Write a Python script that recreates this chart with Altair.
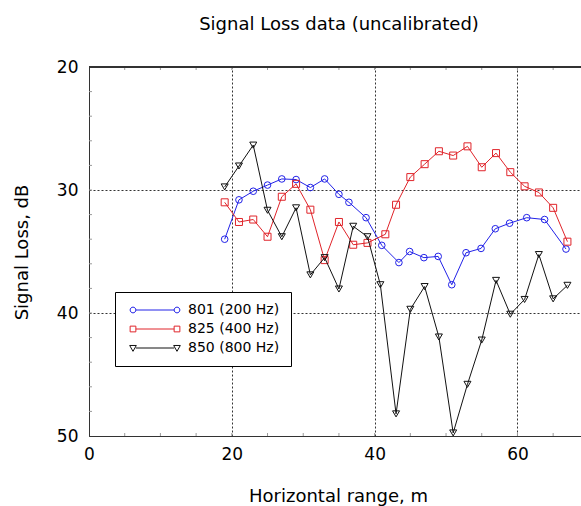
import altair as alt
import pandas as pd

# ---------------- data ----------------
series_names = ["801 (200 Hz)", "825 (400 Hz)", "850 (800 Hz)"]

x_801 = [19, 21, 23, 25, 27, 29, 31, 33, 35, 36.4, 38.8, 41, 43.4, 44.9, 46.9, 48.9,
         50.8, 52.8, 54.9, 56.9, 58.9, 61.3, 63.8, 66.8]
y_801 = [34.0, 30.8, 30.1, 29.6, 29.1, 29.15, 29.8, 29.1, 30.35, 31.0, 32.25, 34.5,
         35.9, 35.0, 35.5, 35.4, 37.7, 35.1, 34.75, 33.15, 32.7, 32.25, 32.4, 34.8]

x_825 = [19, 21, 23, 25, 27, 29, 31, 33, 35, 37, 39, 41.5, 43, 45, 47, 49, 51, 53,
         55, 57, 59, 61, 63, 65, 67]
y_825 = [31.0, 32.6, 32.4, 33.8, 30.55, 29.5, 31.6, 35.7, 32.6, 34.45, 34.3, 33.6,
         31.2, 28.95, 27.9, 26.85, 27.2, 26.45, 28.15, 27.0, 28.55, 29.7, 30.2, 31.45, 34.2]

x_850 = [19, 21, 23, 25, 27, 29, 31, 33, 35, 37, 39, 40.8, 43, 45, 47, 49, 51, 53,
         55, 57, 59, 61, 63, 65, 67]
y_850 = [29.75, 28.05, 26.35, 31.65, 33.8, 31.45, 36.9, 35.5, 38.05, 32.95, 33.8, 37.7,
         48.2, 39.7, 37.85, 41.95, 49.75, 45.8, 42.2, 37.35, 40.1, 38.9, 35.25, 38.85, 37.75]

x_tick_labels = [0, 20, 40, 60]
y_tick_labels = [20, 30, 40, 50]
x_minor_ticks = [5, 10, 15, 20, 25, 30, 35, 40, 45, 50, 55, 60, 65]
y_minor_ticks = [22, 24, 26, 28, 30, 32, 34, 36, 38, 40, 42, 44, 46, 48]

TITLE = "Signal Loss data (uncalibrated)"
X_TITLE = "Horizontal range, m"
Y_TITLE = "Signal Loss, dB"

# ---------------- styling ----------------
FONT = "DejaVu Sans"
W, H = 492, 369
colors = ["#2222e8", "#e0242a", "#111111"]
plot_shapes = ["circle", "square", "triangle-down"]
plot_sizes = [44, 49, 49]

# legend symbols: a short line with a marker at each end (units of sqrt(size)/2 px)
U = 12.57
r = 0.82


def circ(cx):
    return f"M{cx - r},0A{r},{r} 0 1,0 {cx + r},0A{r},{r} 0 1,0 {cx - r},0Z"


def sq(cx):
    return f"M{cx - r},{-r}L{cx + r},{-r}L{cx + r},{r}L{cx - r},{r}Z"


def tri(cx):
    return f"M{cx - 0.95},-0.72L{cx + 0.95},-0.72L{cx},0.95Z"


def seg():
    return f"M{r},0L{U - r},0"


legend_paths = [
    circ(0) + seg() + circ(U),
    sq(0) + seg() + sq(U),
    tri(0) + seg() + tri(U),
]

xs = alt.Scale(domain=[0, 68.9], nice=False, zero=False)
ys = alt.Scale(domain=[20, 50], reverse=True, nice=False, zero=False)

x_axis = alt.Axis(
    values=x_tick_labels, grid=True, gridDash=[2, 2], gridColor="#333333", gridOpacity=1,
    gridWidth=1, ticks=False, domain=True, domainColor="#333333", domainWidth=1,
    labelFont=FONT, labelFontSize=17, labelColor="black", labelPadding=10,
    labelFlush=False, labelOverlap=False,
    titleFont=FONT, titleFontSize=18, titleFontWeight="normal", titleColor="black",
    titleX=249, titleY=65, titleBaseline="alphabetic", titleAlign="center",
)
y_axis = alt.Axis(
    values=y_tick_labels, grid=True, gridDash=[2, 2], gridColor="#333333", gridOpacity=1,
    gridWidth=1, ticks=False, domain=True, domainColor="#333333", domainWidth=1,
    labelFont=FONT, labelFontSize=17, labelColor="black", labelPadding=11,
    labelFlush=False, labelOverlap=False,
    titleFont=FONT, titleFontSize=18, titleFontWeight="normal", titleColor="black",
    titleX=-62, titleY=185, titleAngle=270, titleBaseline="alphabetic", titleAlign="center",
)


def X(field):
    return alt.X(field, type="quantitative", scale=xs, axis=x_axis, title=X_TITLE)


def Y(field):
    return alt.Y(field, type="quantitative", scale=ys, axis=y_axis, title=Y_TITLE)


frames = []
all_x = [x_801, x_825, x_850]
all_y = [y_801, y_825, y_850]
for name, xv, yv in zip(series_names, all_x, all_y):
    frames.append(pd.DataFrame({"x": xv, "y": yv, "series": name}))
df = pd.concat(frames, ignore_index=True)

layers = []

# inward minor ticks
ytick_df = pd.DataFrame({"v": y_minor_ticks})
xtick_df = pd.DataFrame({"v": x_minor_ticks})
layers.append(
    alt.Chart(ytick_df).mark_rule(color="#9a9a9a", strokeWidth=1).encode(
        y=Y("v"), x=alt.value(0), x2=alt.value(3)
    )
)
layers.append(
    alt.Chart(xtick_df).mark_rule(color="#9a9a9a", strokeWidth=1).encode(
        x=X("v"), y=alt.value(0), y2=alt.value(3)
    )
)
layers.append(
    alt.Chart(xtick_df).mark_rule(color="#9a9a9a", strokeWidth=1).encode(
        x=X("v"), y=alt.value(H - 3), y2=alt.value(H)
    )
)
# top frame line
layers.append(
    alt.Chart(xtick_df).mark_rule(color="#333333", strokeWidth=1).encode(
        x=alt.value(0), x2=alt.value(W), y=alt.value(0)
    )
)

for name, col, shp, sz in zip(series_names, colors, plot_shapes, plot_sizes):
    base = alt.Chart(df).transform_filter(alt.datum.series == name)
    layers.append(
        base.mark_line(color=col, strokeWidth=1).encode(x=X("x"), y=Y("y"))
    )
    layers.append(
        base.mark_point(shape=shp, filled=False, size=sz, strokeWidth=1, opacity=1,
                        color=col).encode(x=X("x"), y=Y("y"))
    )

legend = alt.Legend(
    orient="none", legendX=26, legendY=225, title=None,
    strokeColor="black", fillColor="white", padding=11, cornerRadius=0,
    rowPadding=5, labelOffset=48, symbolSize=49, symbolStrokeWidth=1,
    labelFont=FONT, labelFontSize=14, labelColor="black", symbolOpacity=1,
)

legend_layer = (
    alt.Chart(df)
    .transform_filter("false")
    .mark_point(filled=False, size=49, strokeWidth=1, opacity=1)
    .encode(
        x=X("x"),
        y=Y("y"),
        color=alt.Color("series:N", scale=alt.Scale(domain=series_names, range=colors),
                        legend=legend),
        shape=alt.Shape("series:N", scale=alt.Scale(domain=series_names, range=legend_paths),
                        legend=legend),
    )
)
layers.append(legend_layer)

chart = (
    alt.layer(*layers)
    .properties(
        width=W,
        height=H,
        title=alt.TitleParams(
            text=TITLE, font=FONT, fontSize=18, fontWeight="normal", color="black",
            anchor="middle", frame="group", dx=4, offset=10, baseline="alphabetic",
        ),
        autosize=alt.AutoSizeParams(type="none"),
        padding={"left": 89, "top": 67, "right": 0, "bottom": 70},
    )
    .configure_view(stroke=None)
    .configure(background="white")
)

chart.save("out.html", embed_options={"renderer": "svg", "actions": False})
